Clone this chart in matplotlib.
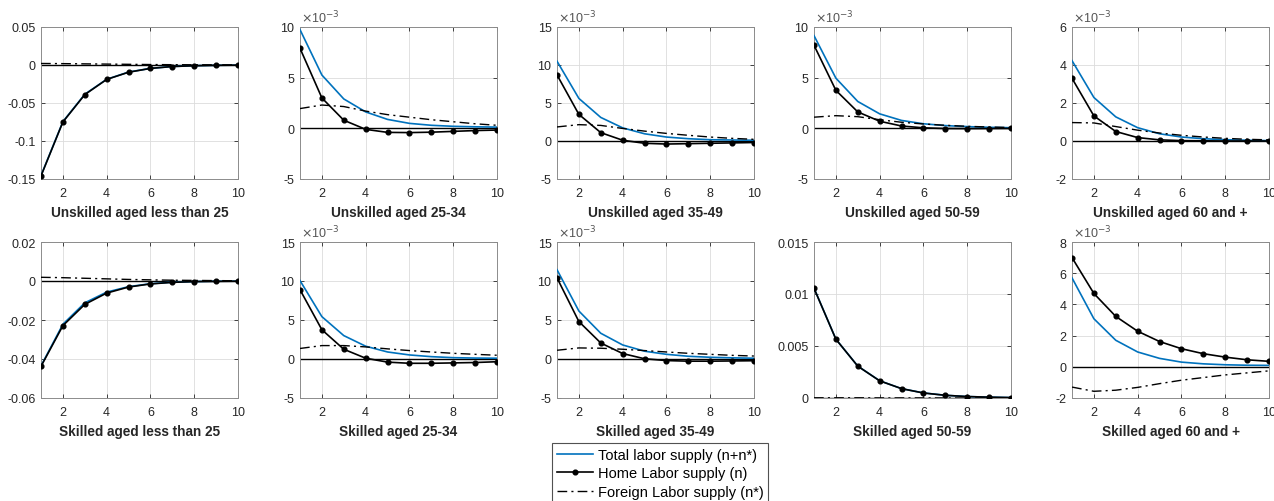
import matplotlib.pyplot as plt
import numpy as np
from matplotlib.ticker import FuncFormatter

plt.rcParams['font.family'] = ['Liberation Sans', 'DejaVu Sans']

periods = np.arange(1, 11)

titles = ['Unskilled aged less than 25', 'Unskilled aged 25-34', 'Unskilled aged 35-49',
          'Unskilled aged 50-59', 'Unskilled aged 60 and +',
          'Skilled aged less than 25', 'Skilled aged 25-34', 'Skilled aged 35-49',
          'Skilled aged 50-59', 'Skilled aged 60 and +']

# unit of each panel's values (1e-3 panels carry a x10^-3 multiplier)
units = [1, 1e-3, 1e-3, 1e-3, 1e-3,
         1, 1e-3, 1e-3, 1, 1e-3]

# total labor supply (n+n*)
total = [
    [-0.1455, -0.0745, -0.0385, -0.0188, -0.0093, -0.0044, -0.0020, -0.0009, -0.0004, -0.0002],
    [9.74, 5.26, 2.90, 1.62, 0.88, 0.49, 0.30, 0.20, 0.15, 0.12],
    [10.5, 5.6, 3.1, 1.73, 0.95, 0.52, 0.30, 0.17, 0.13, 0.10],
    [9.15, 4.95, 2.65, 1.43, 0.78, 0.45, 0.27, 0.17, 0.10, 0.06],
    [4.23, 2.29, 1.27, 0.70, 0.38, 0.21, 0.12, 0.07, 0.04, 0.02],
    [-0.0435, -0.0222, -0.0112, -0.0057, -0.0029, -0.0014, -0.0006, -0.0003, -0.0001, -0.0001],
    [10.05, 5.43, 3.0, 1.64, 0.90, 0.52, 0.30, 0.17, 0.12, 0.10],
    [11.45, 6.15, 3.3, 1.8, 1.0, 0.6, 0.35, 0.22, 0.15, 0.10],
    [0.01057, 0.00566, 0.00307, 0.00166, 0.00090, 0.00049, 0.00026, 0.00014, 0.00008, 0.00004],
    [5.7, 3.08, 1.7, 0.95, 0.54, 0.30, 0.19, 0.13, 0.10, 0.09],
]

# home labor supply (n)
home = [
    [-0.146, -0.075, -0.039, -0.019, -0.0095, -0.0045, -0.002, -0.001, -0.0004, -0.0002],
    [7.9, 3.0, 0.8, -0.1, -0.4, -0.42, -0.38, -0.3, -0.22, -0.17],
    [8.7, 3.5, 1.1, 0.1, -0.3, -0.4, -0.35, -0.3, -0.25, -0.2],
    [8.2, 3.75, 1.62, 0.7, 0.23, 0.05, -0.02, -0.03, -0.02, -0.01],
    [3.3, 1.32, 0.5, 0.18, 0.06, 0.02, 0.01, 0.0, 0.0, 0.0],
    [-0.0438, -0.0229, -0.012, -0.0062, -0.0031, -0.0015, -0.0007, -0.0003, -0.0002, -0.0001],
    [8.88, 3.75, 1.25, 0.1, -0.4, -0.55, -0.55, -0.5, -0.45, -0.35],
    [10.4, 4.8, 2.05, 0.7, 0.03, -0.2, -0.28, -0.28, -0.25, -0.22],
    [0.01055, 0.00565, 0.00306, 0.00165, 0.0009, 0.00048, 0.00026, 0.00014, 0.00008, 0.00004],
    [7.0, 4.7, 3.23, 2.28, 1.62, 1.16, 0.84, 0.62, 0.45, 0.35],
]

# foreign labor supply (n*)
foreign = [
    [0.002, 0.0018, 0.0015, 0.0012, 0.0009, 0.0006, 0.0004, 0.0003, 0.0002, 0.0001],
    [1.95, 2.3, 2.15, 1.7, 1.35, 1.1, 0.85, 0.65, 0.45, 0.3],
    [1.85, 2.15, 2.05, 1.65, 1.3, 1.0, 0.75, 0.52, 0.35, 0.22],
    [1.1, 1.25, 1.15, 0.85, 0.6, 0.43, 0.3, 0.2, 0.13, 0.08],
    [0.97, 0.95, 0.76, 0.57, 0.42, 0.3, 0.21, 0.14, 0.09, 0.06],
    [0.0019, 0.0017, 0.0014, 0.0011, 0.0008, 0.0006, 0.0004, 0.0003, 0.0002, 0.0001],
    [1.35, 1.72, 1.72, 1.55, 1.3, 1.08, 0.9, 0.73, 0.6, 0.48],
    [1.12, 1.42, 1.38, 1.25, 1.08, 0.9, 0.73, 0.6, 0.47, 0.38],
    [0.00002, 0.00002, 0.00002, 0.00001, 0.00001, 0.00001, 0.0, 0.0, 0.0, 0.0],
    [-1.3, -1.57, -1.5, -1.32, -1.08, -0.86, -0.69, -0.52, -0.39, -0.26],
]

# y limits and tick step, in panel units
ylims = [(-0.15, 0.05, 0.05), (-5, 10, 5), (-5, 15, 5), (-5, 10, 5), (-2, 6, 2),
         (-0.06, 0.02, 0.02), (-5, 15, 5), (-5, 15, 5), (0, 0.015, 0.005), (-2, 8, 2)]

W, H = 1274, 502
fig = plt.figure(figsize=(W / 100, H / 100), dpi=100)

lefts = [41, 300, 557, 814, 1072]
width = 197
rows = [(28, 180), (243, 399)]

blue = '#0072BD'
txt = '#262626'

for i in range(10):
    r, c = divmod(i, 5)
    top, bot = rows[r]
    ax = fig.add_axes([lefts[c] / W, 1 - bot / H, width / W, (bot - top) / H])
    u = units[i]
    lo, hi, step = ylims[i]

    ax.axhline(0, color='k', lw=1, zorder=2)
    l1, = ax.plot(periods, np.array(total[i]) * u, color=blue, lw=1.2, zorder=3)
    l3, = ax.plot(periods, np.array(foreign[i]) * u, color='k', lw=1, ls='-.',
                  dashes=(7, 3, 1.5, 3), zorder=3)
    l2, = ax.plot(periods, np.array(home[i]) * u, color='k', lw=1.2, marker='o',
                  markersize=3.4, zorder=4)

    ax.set_xlim(1, 10)
    ax.set_xticks([2, 4, 6, 8, 10])
    ax.set_ylim(lo * u, hi * u)
    ax.set_yticks(np.arange(lo, hi + step / 2, step) * u)
    ax.yaxis.set_major_formatter(FuncFormatter(lambda v, p, u=u: f'{round(v / u, 6):g}'))
    if u != 1:
        ax.text(0.005, 1.01, r'$\times$10$^{-3}$', transform=ax.transAxes,
                fontsize=9, color='#555555', ha='left', va='bottom')

    ax.grid(True, color='#dcdcdc', lw=0.6)
    ax.set_axisbelow(True)
    ax.tick_params(direction='in', length=3, width=0.6, labelsize=9, colors=txt,
                   top=True, right=True)
    ax.tick_params(axis='x', pad=6)
    ax.tick_params(axis='y', pad=4)
    for s in ax.spines.values():
        s.set_color('#8c8c8c')
        s.set_linewidth(0.7)
    ax.set_xlabel(titles[i], fontsize=9.8, fontweight='bold', color=txt, labelpad=4)

leg = fig.legend([l1, l2, l3],
                 ['Total labor supply (n+n*)', 'Home Labor supply (n)', 'Foreign Labor supply (n*)'],
                 loc='upper center', bbox_to_anchor=(660 / W, 1 - 444 / H),
                 fontsize=10.5, frameon=True, fancybox=False, edgecolor='#262626',
                 handlelength=2.5, handletextpad=0.3, borderpad=0.35, labelspacing=0.3,
                 borderaxespad=0)
leg.get_frame().set_linewidth(0.8)

fig.savefig('out.png', dpi=100, facecolor='white')
